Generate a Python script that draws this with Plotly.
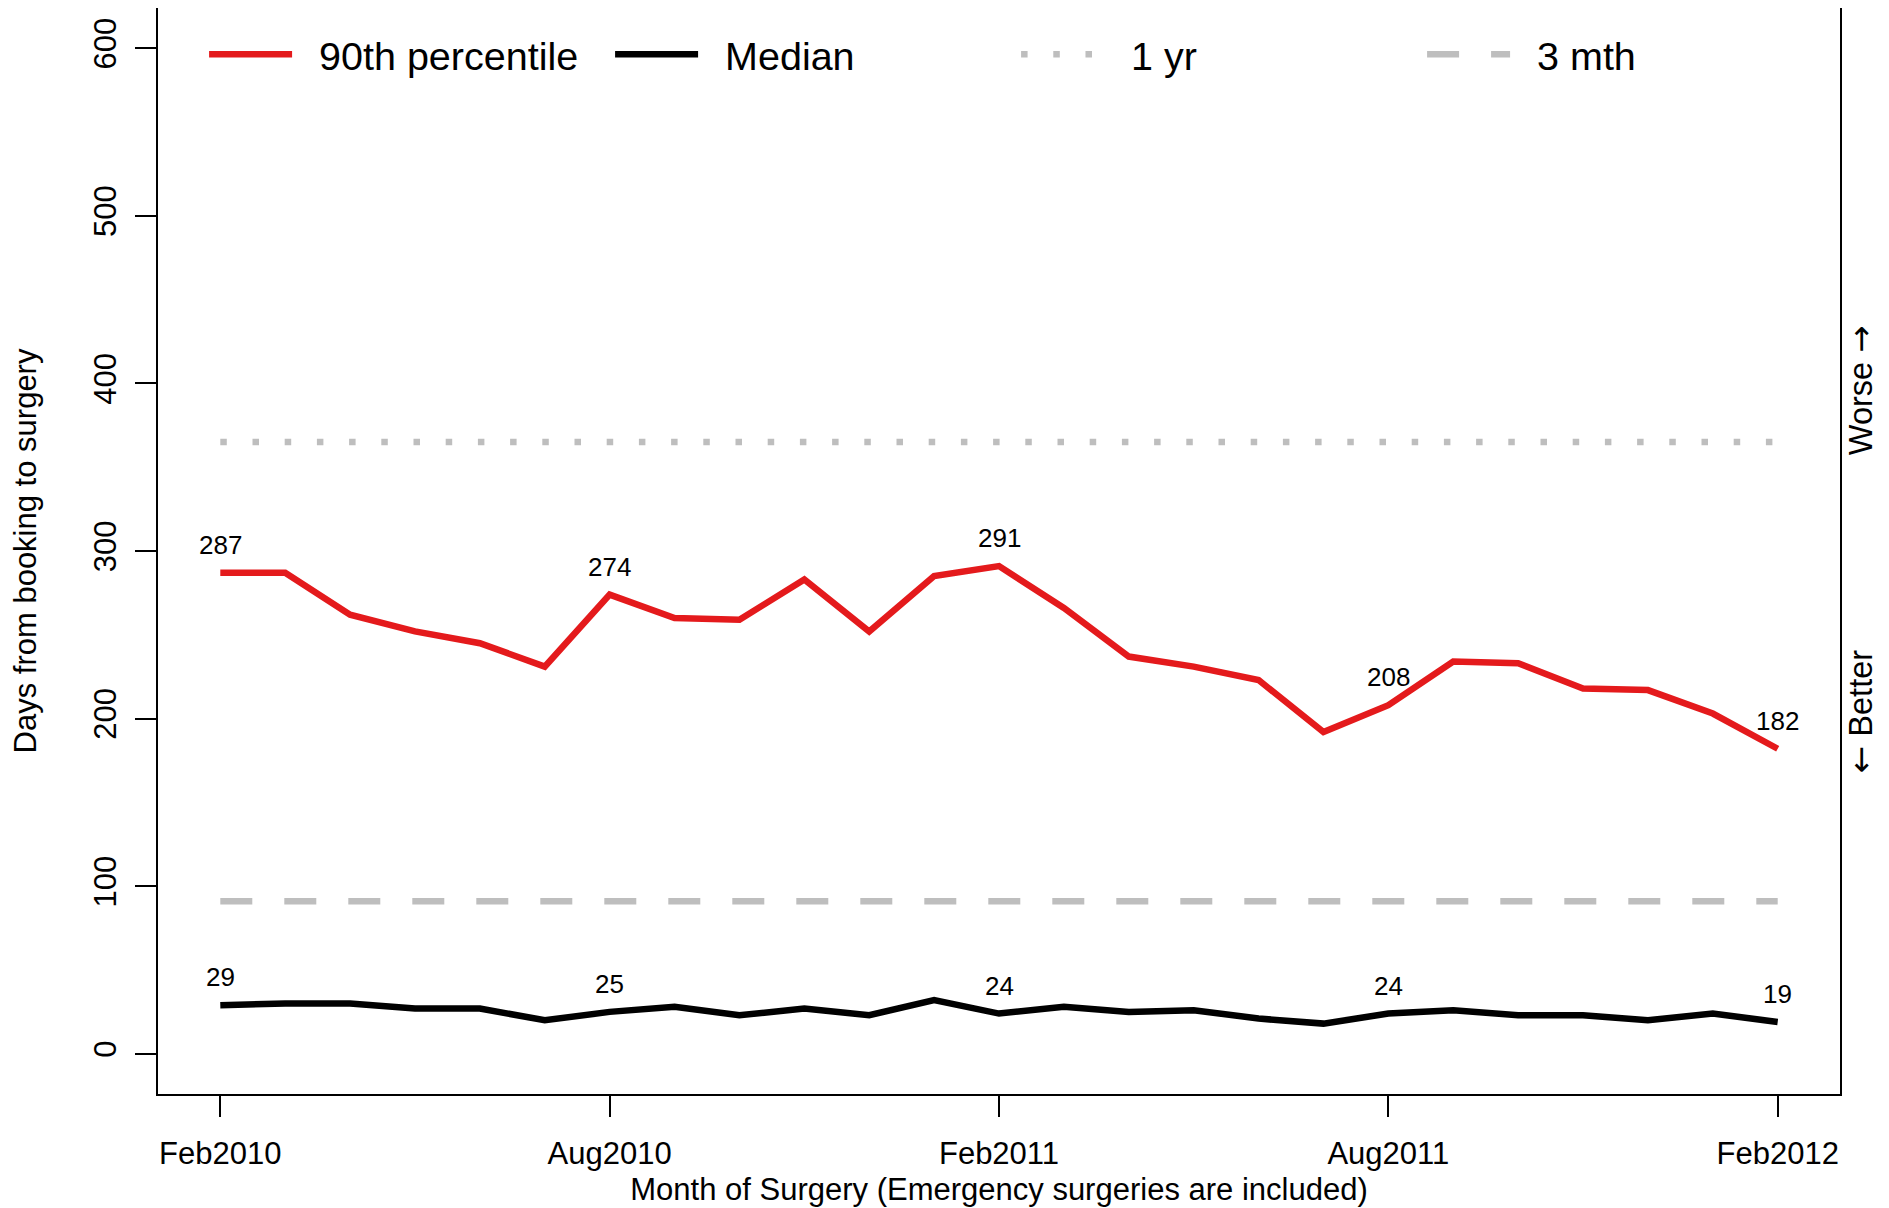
import plotly.graph_objects as go

# ---- data ----
months = ["Feb2010", "Mar2010", "Apr2010", "May2010", "Jun2010", "Jul2010", "Aug2010",
          "Sep2010", "Oct2010", "Nov2010", "Dec2010", "Jan2011", "Feb2011", "Mar2011",
          "Apr2011", "May2011", "Jun2011", "Jul2011", "Aug2011", "Sep2011", "Oct2011",
          "Nov2011", "Dec2011", "Jan2012", "Feb2012"]
p90 = [287, 287, 262, 252, 245, 231, 274, 260, 259, 283, 252, 285, 291,
       266, 237, 231, 223, 192, 208, 234, 233, 218, 217, 203, 182]
median = [29, 30, 30, 27, 27, 20, 25, 28, 23, 27, 23, 32, 24,
          28, 25, 26, 21, 18, 24, 26, 23, 23, 20, 24, 19]
one_year = 365
three_month = 91
label_idx = [0, 6, 12, 18, 24]
tick_idx = [0, 6, 12, 18, 24]
tick_text = ["Feb2010", "Aug2010", "Feb2011", "Aug2011", "Feb2012"]
y_ticks = [0, 100, 200, 300, 400, 500, 600]
series_names = ["90th percentile", "Median", "1 yr", "3 mth"]

FONT = "Liberation Sans, Arial, Helvetica, sans-serif"
ARROW = '<span style="font-family:DejaVu Sans">{}</span>'
RED = "#E41A1C"
GREY = "#BEBEBE"
PAD = "\u00a0\u00a0"  # gap between legend sample and its text

x = list(range(len(months)))

fig = go.Figure()
fig.add_trace(go.Scatter(x=x, y=p90, mode="lines", name=PAD + series_names[0],
                         line=dict(color=RED, width=6.5)))
fig.add_trace(go.Scatter(x=x, y=median, mode="lines", name=PAD + series_names[1],
                         line=dict(color="black", width=6.5)))
fig.add_trace(go.Scatter(x=[x[0], x[-1]], y=[one_year, one_year], mode="lines",
                         name=PAD + series_names[2],
                         line=dict(color=GREY, width=6.5, dash="6.5px,25.7px")))
fig.add_trace(go.Scatter(x=[x[0], x[-1]], y=[three_month, three_month], mode="lines",
                         name=PAD + series_names[3],
                         line=dict(color=GREY, width=6.5, dash="32px,32px")))

for i in label_idx:
    for series in (p90, median):
        fig.add_annotation(x=x[i], y=series[i], text=str(series[i]), showarrow=False,
                           yshift=28, font=dict(size=26, color="black", family=FONT))

fig.add_annotation(xref="paper", yref="y", x=1.0125, y=396, xanchor="center", yanchor="middle",
                   text="Worse " + ARROW.format("\u2192"),
                   textangle=-90, showarrow=False, font=dict(size=32.5, color="black", family=FONT))
fig.add_annotation(xref="paper", yref="y", x=1.0125, y=204, xanchor="center", yanchor="middle",
                   text=ARROW.format("\u2190") + " Better",
                   textangle=-90, showarrow=False, font=dict(size=32.5, color="black", family=FONT))

fig.update_layout(
    width=1881, height=1200,
    margin=dict(l=150, r=49, t=0, b=114, autoexpand=False),
    plot_bgcolor="white", paper_bgcolor="white",
    font=dict(family=FONT, size=31, color="black"),
    showlegend=True,
    legend=dict(orientation="h", x=0.0274, y=0.987, xanchor="left", yanchor="top",
                font=dict(size=39.5, family=FONT), bgcolor="rgba(0,0,0,0)",
                entrywidth=308, entrywidthmode="pixels", itemwidth=83),
    xaxis=dict(range=[-0.96, 24.96], tickmode="array", tickvals=tick_idx, ticktext=tick_text,
               showgrid=False, zeroline=False, showline=True, mirror=True, linecolor="black",
               linewidth=2, ticks="outside", ticklen=21, tickwidth=1.5, tickcolor="black",
               tickfont=dict(size=31), automargin=False, ticklabelstandoff=10,
               title=dict(text="Month of Surgery (Emergency surgeries are included)",
                          font=dict(size=31), standoff=8)),
    yaxis=dict(range=[-24, 624], tickmode="array", tickvals=y_ticks,
               showgrid=False, zeroline=False, showline=True, mirror=True, linecolor="black",
               linewidth=2, ticks="outside", ticklen=21, tickwidth=1.5, tickcolor="black",
               tickangle=-90, tickfont=dict(size=31), automargin=False, ticklabelstandoff=7,
               title=dict(text="Days from booking to surgery", font=dict(size=31), standoff=44)),
)

fig.write_html("out.html")
